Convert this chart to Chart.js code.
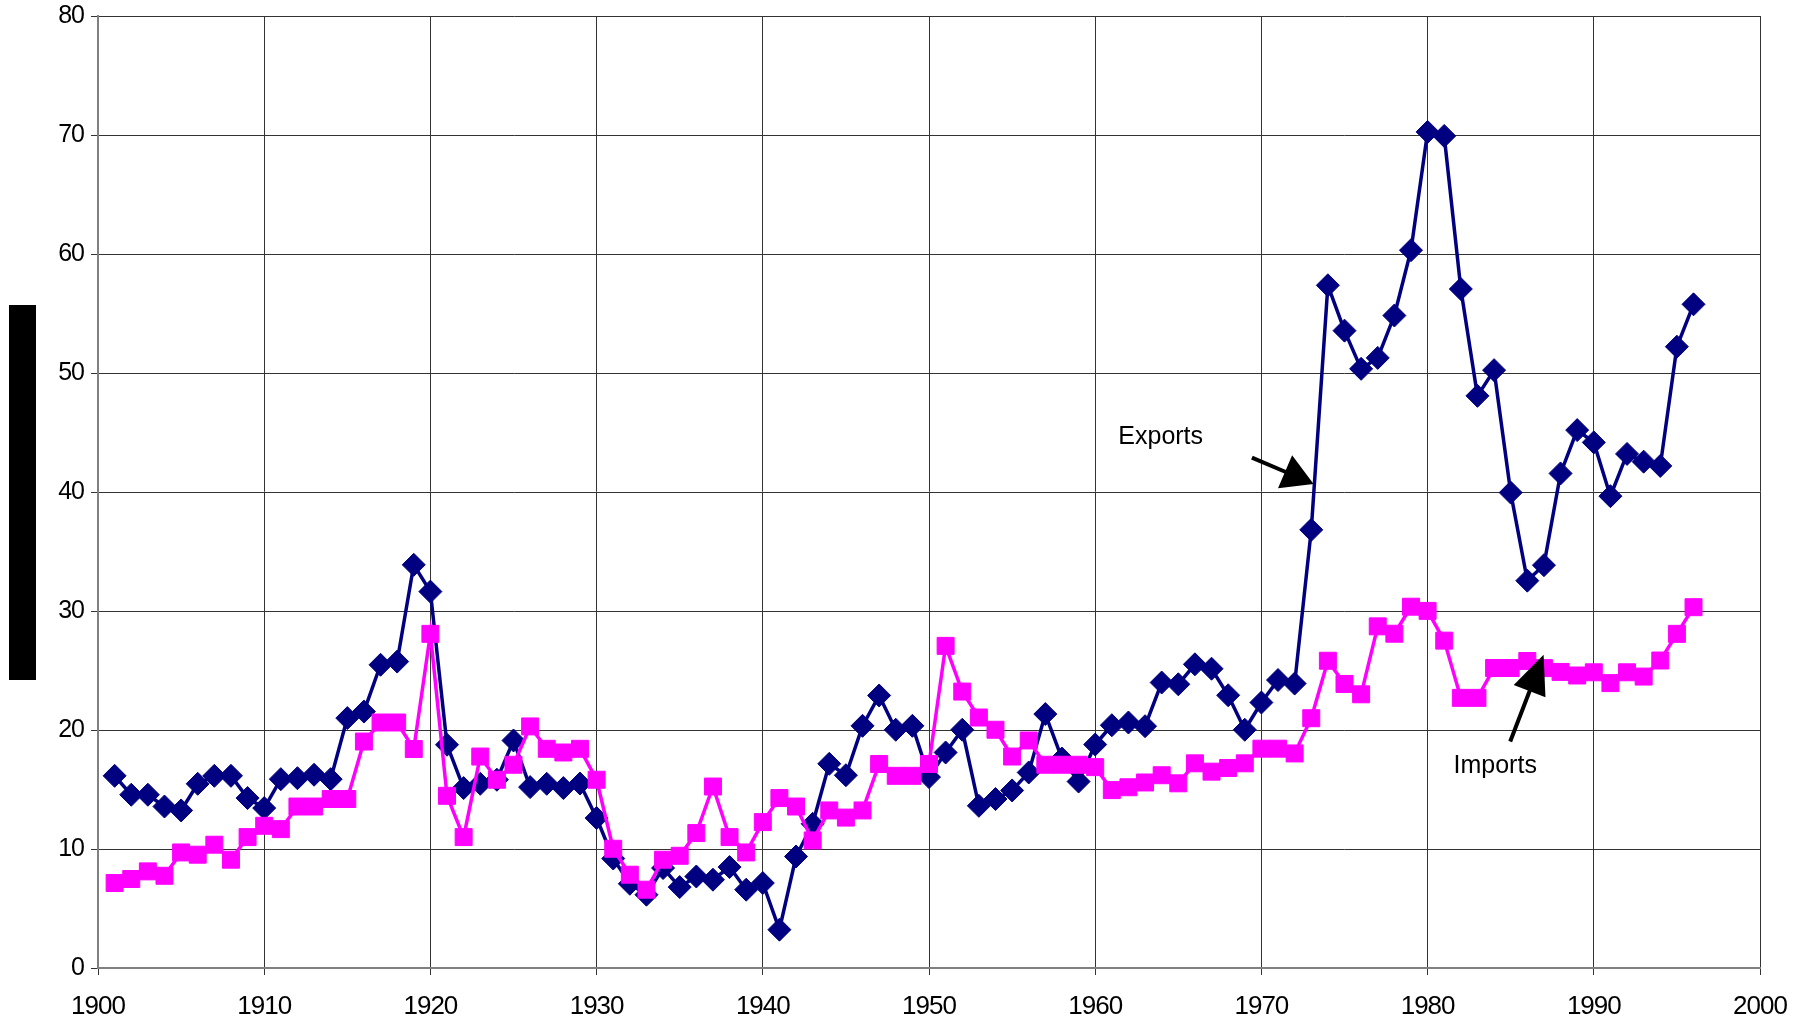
<!DOCTYPE html>
<html>
<head>
<meta charset="utf-8">
<script src="https://cdn.jsdelivr.net/npm/chart.js@4.4.1/dist/chart.umd.min.js"></script>
<style>
  html, body { margin: 0; padding: 0; background: #fff; }
  #wrap { position: relative; width: 1803px; height: 1026px; }
  #bar { position: absolute; left: 9px; top: 305px; width: 27px; height: 375px; background: #000; }
</style>
</head>
<body>
<div id="wrap">
  <canvas id="c" width="1803" height="1026"></canvas>
  <div id="bar"></div>
</div>
<script>
const years = [1901,1902,1903,1904,1905,1906,1907,1908,1909,1910,
  1911,1912,1913,1914,1915,1916,1917,1918,1919,1920,
  1921,1922,1923,1924,1925,1926,1927,1928,1929,1930,
  1931,1932,1933,1934,1935,1936,1937,1938,1939,1940,
  1941,1942,1943,1944,1945,1946,1947,1948,1949,1950,
  1951,1952,1953,1954,1955,1956,1957,1958,1959,1960,
  1961,1962,1963,1964,1965,1966,1967,1968,1969,1970,
  1971,1972,1973,1974,1975,1976,1977,1978,1979,1980,
  1981,1982,1983,1984,1985,1986,1987,1988,1989,1990,
  1991,1992,1993,1994,1995,1996];

const exportsVals = [16.15,14.56,14.56,13.57,13.24,15.48,16.15,16.15,14.28,13.44,
  15.87,15.95,16.24,15.87,21.0,21.55,25.48,25.75,33.88,31.63,
  18.76,15.12,15.48,15.82,19.12,15.2,15.48,15.12,15.5,12.6,
  9.2,7.08,6.16,8.4,6.8,7.69,7.42,8.48,6.58,7.14,
  3.22,9.37,12.12,17.16,16.2,20.35,22.9,20.02,20.35,16.04,
  18.11,20.02,13.63,14.2,14.92,16.43,21.34,17.6,15.67,18.78,
  20.4,20.63,20.32,23.99,23.84,25.52,25.15,22.92,20.02,22.31,
  24.2,23.9,36.82,57.37,53.56,50.35,51.27,54.83,60.32,70.26,
  69.92,57.06,48.08,50.24,39.95,32.55,33.85,41.56,45.2,44.17,
  39.65,43.2,42.55,42.19,52.21,55.77];

const importsVals = [7.14,7.48,8.12,7.75,9.71,9.52,10.36,9.1,11.0,11.95,
  11.67,13.57,13.57,14.2,14.2,19.03,20.63,20.63,18.4,28.08,
  14.47,11.0,17.77,15.82,17.08,20.3,18.42,18.11,18.42,15.82,
  10.02,7.84,6.58,9.1,9.43,11.34,15.25,11.0,9.71,12.26,
  14.28,13.57,10.72,13.24,12.64,13.24,17.14,16.15,16.15,17.14,
  27.07,23.23,21.05,20.02,17.77,19.12,17.08,17.08,17.08,16.88,
  14.95,15.19,15.59,16.2,15.52,17.2,16.5,16.81,17.2,18.43,
  18.43,18.03,20.99,25.82,23.87,23.0,28.71,28.09,30.36,30.01,
  27.51,22.7,22.7,25.21,25.21,25.8,25.2,24.88,24.58,24.85,
  23.94,24.85,24.49,25.84,28.08,30.32];

const xTickValues = [1900,1910,1920,1930,1940,1950,1960,1970,1980,1990,2000];
const yTickValues = [0,10,20,30,40,50,60,70,80];

// annotation labels (text, and arrow endpoints in data units)
const noteTexts = ['Exports', 'Imports'];
const noteTextAt = [[1961.39, 44.07], [1981.56, 16.38]];
const noteArrowFrom = [[1969.43, 42.89], [1984.97, 19.03]];
const noteArrowTo = [[1973.14, 40.68], [1986.98, 26.32]];

const FONT = '"Liberation Sans", Arial, Helvetica, sans-serif';

const spacingPlugin = {
  id: 'spacing',
  beforeDraw(chart) { chart.ctx.letterSpacing = '-1px'; }
};

const annotPlugin = {
  id: 'annot',
  afterDatasetsDraw(chart) {
    const { ctx, scales: { x, y } } = chart;
    ctx.save();
    ctx.letterSpacing = '0px';
    ctx.fillStyle = '#000';
    ctx.strokeStyle = '#000';
    ctx.font = '25px ' + FONT;
    ctx.textBaseline = 'alphabetic';
    ctx.textAlign = 'left';
    const heads = [[31, 18], [39, 17]];
    noteTexts.forEach((t, i) => {
      ctx.fillText(t, x.getPixelForValue(noteTextAt[i][0]), y.getPixelForValue(noteTextAt[i][1]));
      const x0 = x.getPixelForValue(noteArrowFrom[i][0]), y0 = y.getPixelForValue(noteArrowFrom[i][1]);
      const x1 = x.getPixelForValue(noteArrowTo[i][0]), y1 = y.getPixelForValue(noteArrowTo[i][1]);
      const a = Math.atan2(y1 - y0, x1 - x0);
      const L = heads[i][0], W = heads[i][1];
      const bx = x1 - L * Math.cos(a), by = y1 - L * Math.sin(a);
      ctx.lineWidth = 4;
      ctx.beginPath(); ctx.moveTo(x0, y0); ctx.lineTo(bx + 2 * Math.cos(a), by + 2 * Math.sin(a)); ctx.stroke();
      ctx.beginPath();
      ctx.moveTo(x1, y1);
      ctx.lineTo(bx - W * Math.sin(a), by + W * Math.cos(a));
      ctx.lineTo(bx + W * Math.sin(a), by - W * Math.cos(a));
      ctx.closePath(); ctx.fill();
    });
    ctx.restore();
  }
};

new Chart(document.getElementById('c'), {
  type: 'line',
  data: {
    labels: years,
    datasets: [
      {
        label: 'Imports',
        data: years.map((yr, i) => ({ x: yr, y: importsVals[i] })),
        borderColor: '#FF00FF',
        backgroundColor: '#FF00FF',
        borderWidth: 3.5,
        pointStyle: 'rect',
        pointRadius: 12,
        pointBorderWidth: 1,
        pointBorderColor: '#FF00FF',
        pointBackgroundColor: '#FF00FF',
        tension: 0,
        order: 0
      },
      {
        label: 'Exports',
        data: years.map((yr, i) => ({ x: yr, y: exportsVals[i] })),
        borderColor: '#000080',
        backgroundColor: '#000080',
        borderWidth: 3.5,
        pointStyle: 'rectRot',
        pointRadius: 11.5,
        pointBorderWidth: 1,
        pointBorderColor: '#000080',
        pointBackgroundColor: '#000080',
        tension: 0,
        order: 1
      }
    ]
  },
  options: {
    responsive: false,
    devicePixelRatio: 1,
    animation: false,
    layout: { padding: { top: 16, right: 43, left: 0, bottom: 0 } },
    plugins: { legend: { display: false }, tooltip: { enabled: false } },
    scales: {
      x: {
        type: 'linear',
        min: 1900, max: 2000,
        afterBuildTicks: s => { s.ticks = xTickValues.map(v => ({ value: v })); },
        afterFit: s => { s.height = 58; s.paddingLeft = 0; s.paddingRight = 0; },
        ticks: { color: '#000', font: { family: FONT, size: 26 }, padding: 16, maxRotation: 0, autoSkip: false,
                 callback: v => String(v) },
        grid: { color: '#333', lineWidth: 1, tickLength: 7, tickColor: '#333' },
        border: { color: '#808080', width: 2 }
      },
      y: {
        min: 0, max: 80,
        afterBuildTicks: s => { s.ticks = yTickValues.map(v => ({ value: v })); },
        afterFit: s => { s.width = 98; s.paddingTop = 0; s.paddingBottom = 0; },
        ticks: { color: '#000', font: { family: FONT, size: 25 }, padding: 7, callback: v => String(v) },
        grid: { color: '#333', lineWidth: 1, tickLength: 7, tickColor: '#333' },
        border: { color: '#808080', width: 2 }
      }
    }
  },
  plugins: [spacingPlugin, annotPlugin]
});
</script>
</body>
</html>
